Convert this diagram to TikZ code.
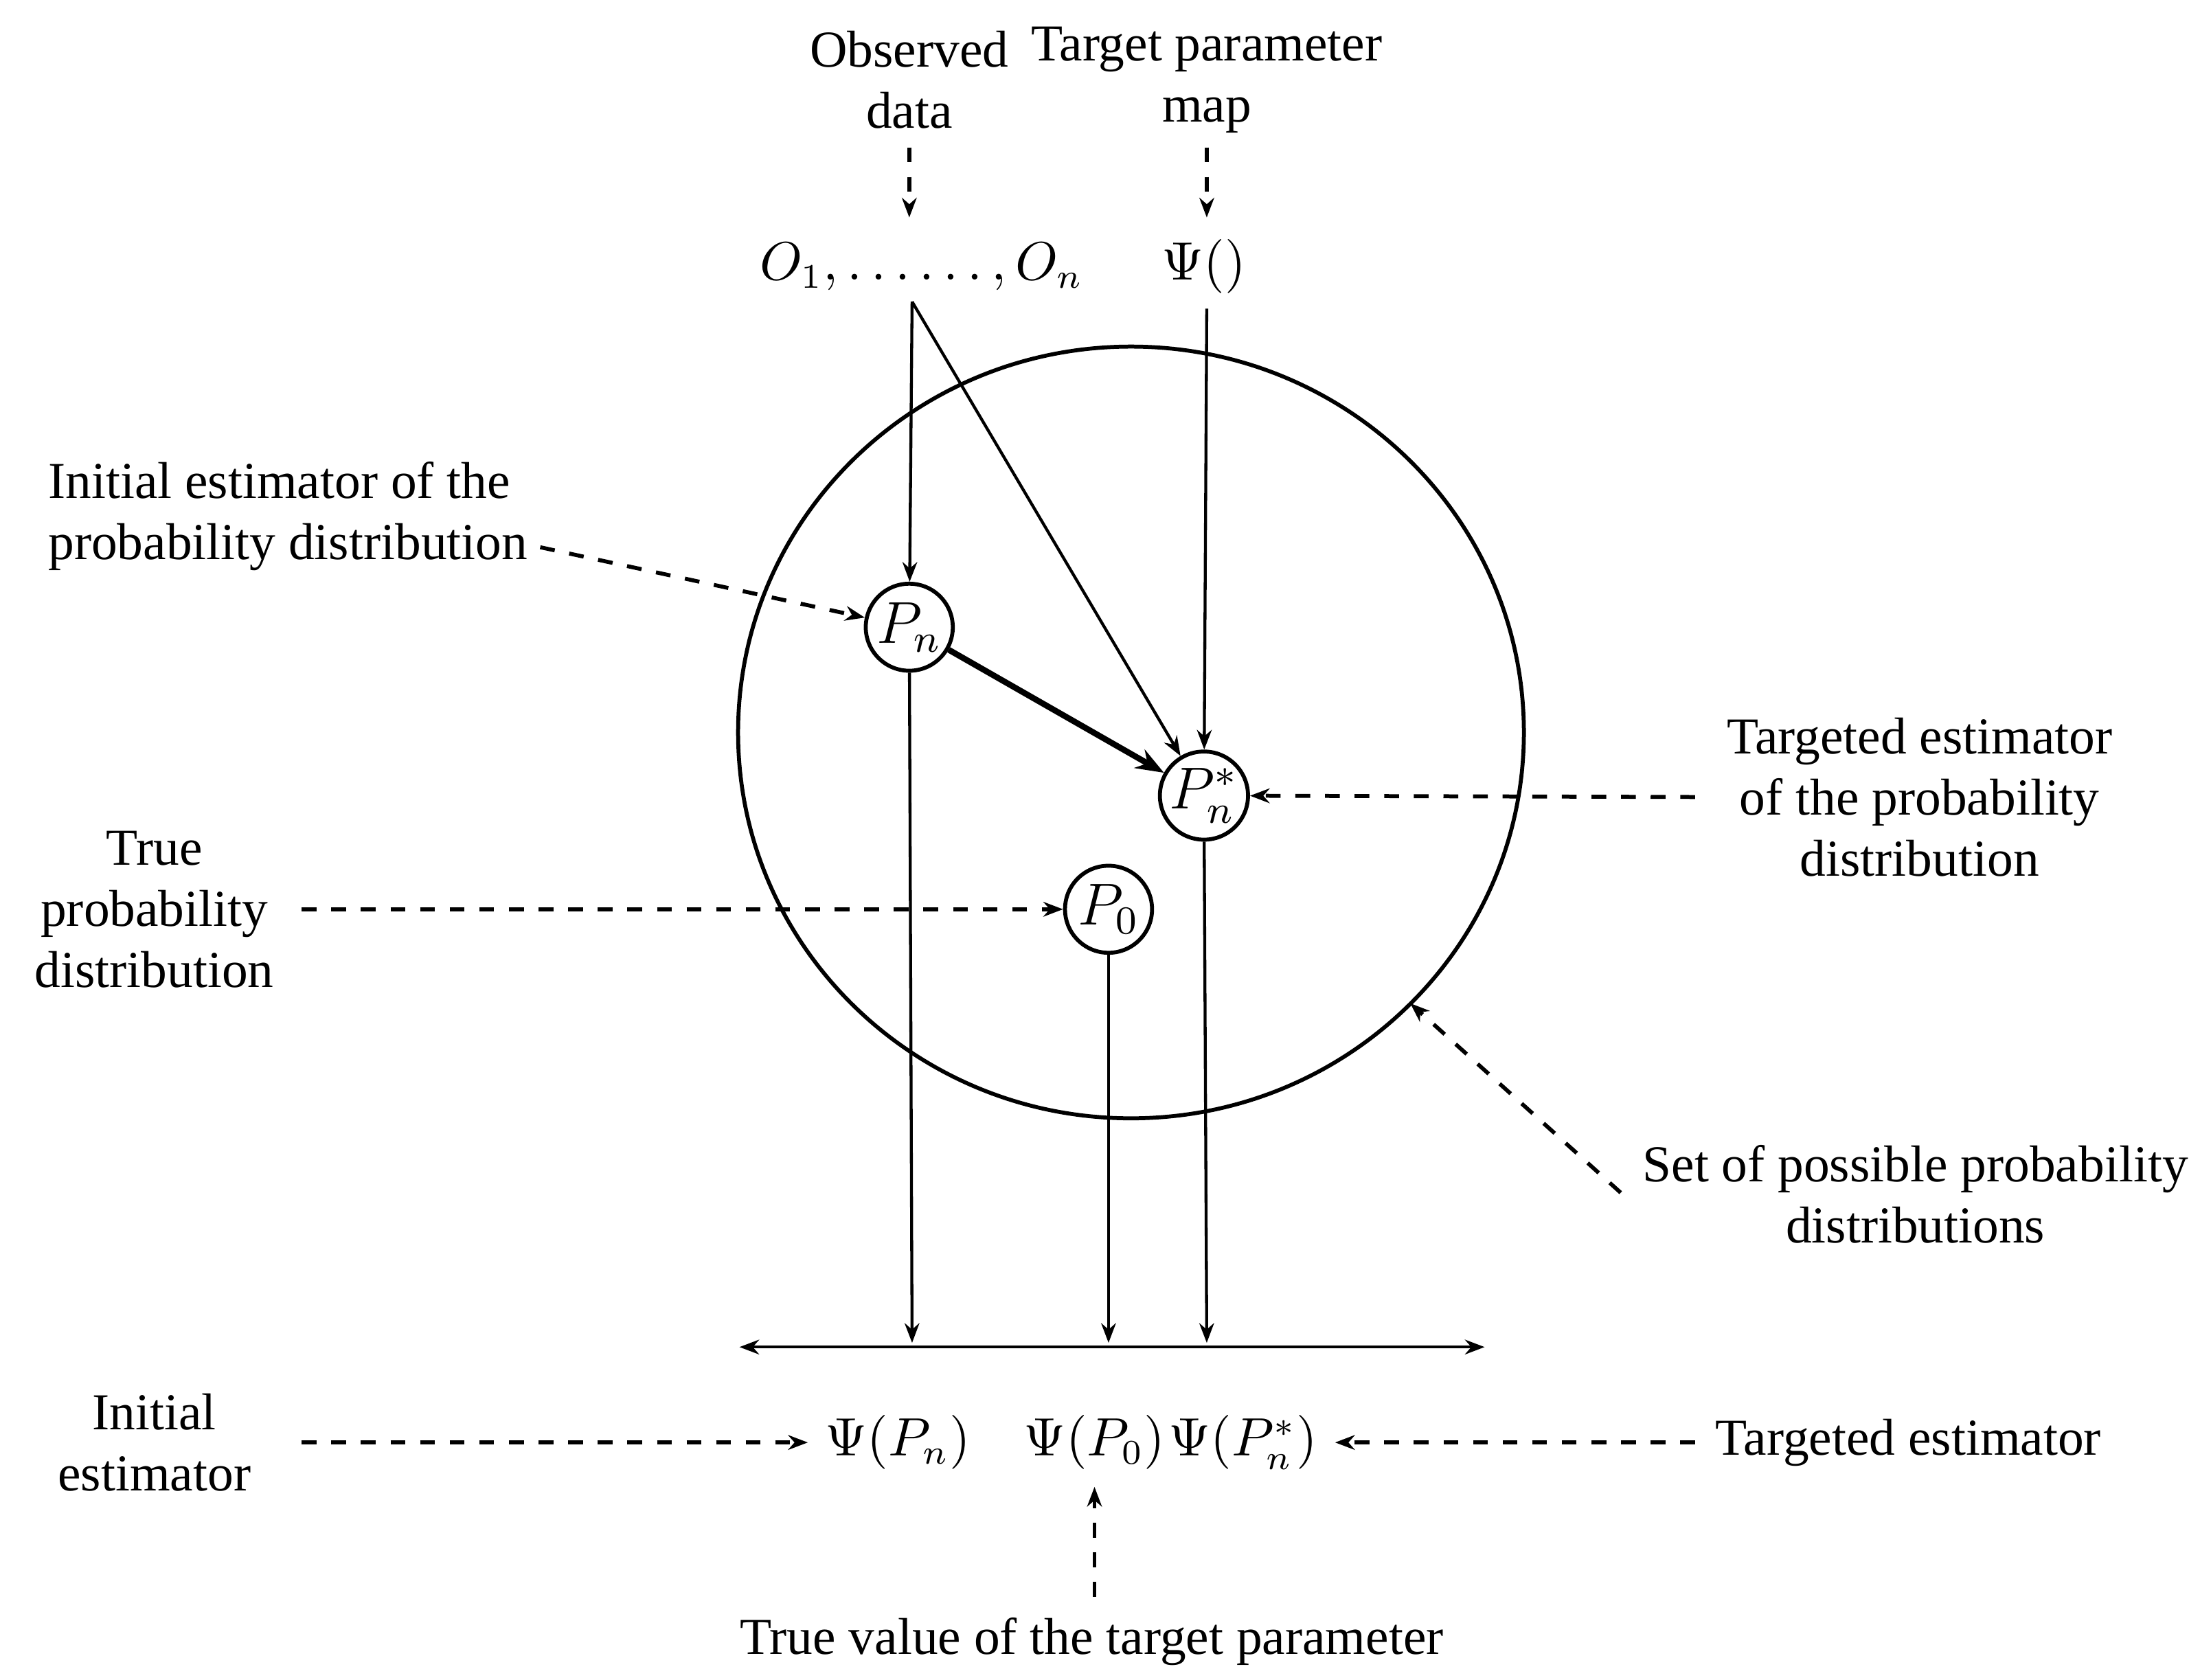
\documentclass[tikz,border=0pt]{standalone}
\usepackage{fontspec}
\setmainfont{Liberation Serif}
\usetikzlibrary{arrows.meta}
\begin{document}
\begin{tikzpicture}[x=0.01cm,y=-0.01cm,
  lbl/.style={font=\fontsize{10.5}{12.4}\selectfont, align=center},
  prob/.style={circle, draw, thick, minimum size=0.62cm, inner sep=0pt, font=\large},
  dasharr/.style={thick, dashed, -{Stealth[length=1.4mm]}},
  linearr/.style={semithick, -{Stealth[length=1.4mm]}}]
  \useasboundingbox (0,0) rectangle (1560,1197);
  \newcommand\axy{960}
  % the set of distributions
  \draw[thick] (806,522) ellipse [x radius=280, y radius=275];
  % top texts
  \node[lbl] (obs) at (648,57) {Observed\\data};
  \node[lbl] (map) at (860,57) {Target parameter\\map};
  \node[lbl] (data) at (657,190) {$O_1,\ldots\ldots,O_n$};
  \node[lbl] (psi) at (858,190) {$\Psi()$};
  \draw[dasharr] (648,105) -- (648,155);
  \draw[dasharr] (860,105) -- (860,155);
  % distributions
  \node[prob] (Pn) at (648,447) {$P_n$};
  \node[prob] (Pns) at (858,567) {$P_n^*$};
  \node[prob] (P0) at (790,648) {$P_0$};
  \coordinate (src) at (650,215);
  \coordinate (psisrc) at (860,220);
  \draw[linearr] (src) -- (Pn);
  \draw[linearr] (src) -- (Pns);
  \draw[linearr] (psisrc) -- (Pns);
  \draw[very thick, -{Stealth[length=2mm]}] (Pn) -- (Pns);
  % axis
  \coordinate (axl) at (527,\axy);
  \coordinate (axr) at (1058,\axy);
  \draw[semithick, {Stealth[length=1.4mm]}-{Stealth[length=1.4mm]}] (axl) -- (axr);
  \coordinate (a1) at (650,957);
  \coordinate (a2) at (790,957);
  \coordinate (a3) at (860,957);
  \draw[linearr] (Pn) -- (a1);
  \draw[linearr] (P0) -- (a2);
  \draw[linearr] (Pns) -- (a3);
  % values
  \node[lbl] (vPn) at (640,1028) {$\Psi(P_n)$};
  \node[lbl] (vP0) at (780,1028) {$\Psi(P_0)$};
  \node[lbl] (vPns) at (886,1028) {$\Psi(P_n^*)$};
  % side labels
  \node[lbl, align=left, anchor=west] (init) at (22,368) {Initial estimator of the\\probability distribution};
  \draw[dasharr] (385,390) -- (Pn);
  \node[lbl] (true) at (110,648) {True\\probability\\distribution};
  \draw[dasharr] (215,648) -- (P0);
  \node[lbl] (targ) at (1368,568) {Targeted estimator\\of the probability\\distribution};
  \draw[dasharr] (1208,568) -- (Pns);
  \node[lbl] (set) at (1365,851) {Set of possible probability\\distributions};
  \draw[dasharr] (1155,850) -- (1005,715);
  \node[lbl] (iest) at (110,1028) {Initial\\estimator};
  \draw[dasharr] (215,1028) -- (vPn);
  \node[lbl] (test) at (1360,1028) {Targeted estimator};
  \draw[dasharr] (1208,1028) -- (vPns);
  \node[lbl] (tval) at (778,1170) {True value of the target parameter};
  \draw[dasharr] (780,1138) -- (vP0);
\end{tikzpicture}
\end{document}
